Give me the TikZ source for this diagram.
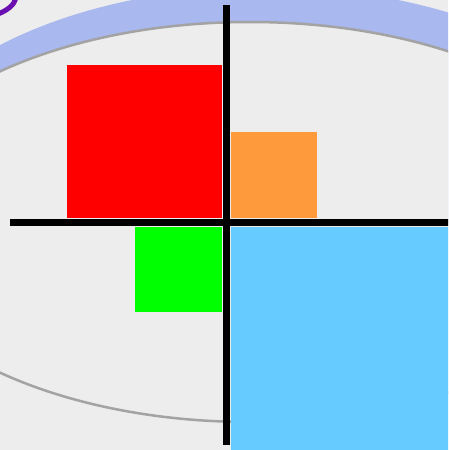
\documentclass[tikz,border=0pt]{standalone}
\usetikzlibrary{positioning}
\definecolor{bggray}{HTML}{EDEDED}
\definecolor{band}{HTML}{A9B8EE}
\definecolor{rimgray}{HTML}{A3A3A3}
\definecolor{purp}{HTML}{6A10B0}
\definecolor{orng}{HTML}{FF9A3C}
\definecolor{skyb}{HTML}{66CCFF}
\tikzset{
  blockbox/.style={draw=none, inner sep=0pt, outer sep=0pt, anchor=north west},
  axisline/.style={line width=7pt, black}
}
\begin{document}
\begin{tikzpicture}[x=1pt,y=-1pt]
\useasboundingbox (0,0) rectangle (448,450);
\clip (0,0) rectangle (448,450);
\fill[bggray] (0,0) rectangle (448,450);
% outer band (top only)
\begin{scope}
\clip (0,0) rectangle (448,222);
\fill[band] (265,205) ellipse [x radius=390, y radius=218];
\end{scope}
% inner ellipse
\fill[bggray] (250,222) ellipse [x radius=380, y radius=200];
\draw[rimgray, line width=2.5pt] (250,222) ellipse [x radius=380, y radius=200];
% purple arc at corner
\draw[purp, line width=5pt] (-2,14) .. controls (8,10) and (14,5) .. (16,-2);
% blocks
\node[blockbox, fill=red, minimum width=155pt, minimum height=153pt] (red) at (67,65) {};
\node[blockbox, fill=orng, minimum width=86pt, minimum height=86pt] (orange) at (231,132) {};
\node[blockbox, fill=green, minimum width=87pt, minimum height=85pt] (green) at (135,227) {};
\node[blockbox, fill=skyb, minimum width=220pt, minimum height=223pt] (blue) at (231,227) {};
% axes
\coordinate (vtop) at (226,5);
\coordinate (vbot) at (226,445);
\coordinate (hl) at (10,222);
\coordinate (hr) at (450,222);
\draw[axisline] (vtop) -- (vbot);
\draw[axisline] (hl) -- (hr);
\end{tikzpicture}
\end{document}
